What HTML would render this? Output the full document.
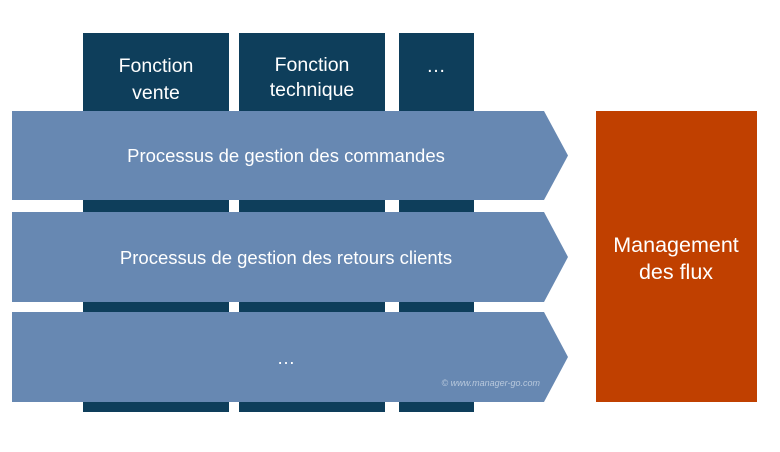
<!DOCTYPE html>
<html><head><meta charset="utf-8"><style>
body{margin:0;width:780px;height:447px;background:#fff;overflow:hidden;font-family:"Liberation Sans","DejaVu Sans",sans-serif}
</style></head><body>
<svg width="780" height="447" viewBox="0 0 780 447" xmlns="http://www.w3.org/2000/svg" font-family="Liberation Sans, DejaVu Sans, sans-serif">
<rect x="83" y="33" width="146" height="379" fill="#0e3e5b"/>
<rect x="239" y="33" width="146" height="379" fill="#0e3e5b"/>
<rect x="399" y="33" width="75" height="379" fill="#0e3e5b"/>
<g fill="#fff" font-size="19.5" text-anchor="middle">
<text x="156" y="72">Fonction</text><text x="156" y="99">vente</text>
<text x="312" y="71">Fonction</text><text x="312" y="96">technique</text>
<text x="436" y="72">…</text>
</g>
<polygon points="12,111 544,111 568,155.5 544,200 12,200" fill="#6788b2"/>
<polygon points="12,212 544,212 568,257 544,302 12,302" fill="#6788b2"/>
<polygon points="12,312 544,312 568,357 544,402 12,402" fill="#6788b2"/>
<g fill="#fff" font-size="18.5" text-anchor="middle">
<text x="286" y="162">Processus de gestion des commandes</text>
<text x="286" y="264">Processus de gestion des retours clients</text>
<text x="286" y="364">…</text>
</g>
<text x="540" y="386" fill="#b8c8dc" font-size="9" font-style="italic" text-anchor="end">© www.manager-go.com</text>
<rect x="596" y="111" width="161" height="291" fill="#c04000"/>
<g fill="#fff" font-size="21.5" text-anchor="middle">
<text x="676" y="252">Management</text><text x="676" y="279">des flux</text>
</g>
</svg>
</body></html>
